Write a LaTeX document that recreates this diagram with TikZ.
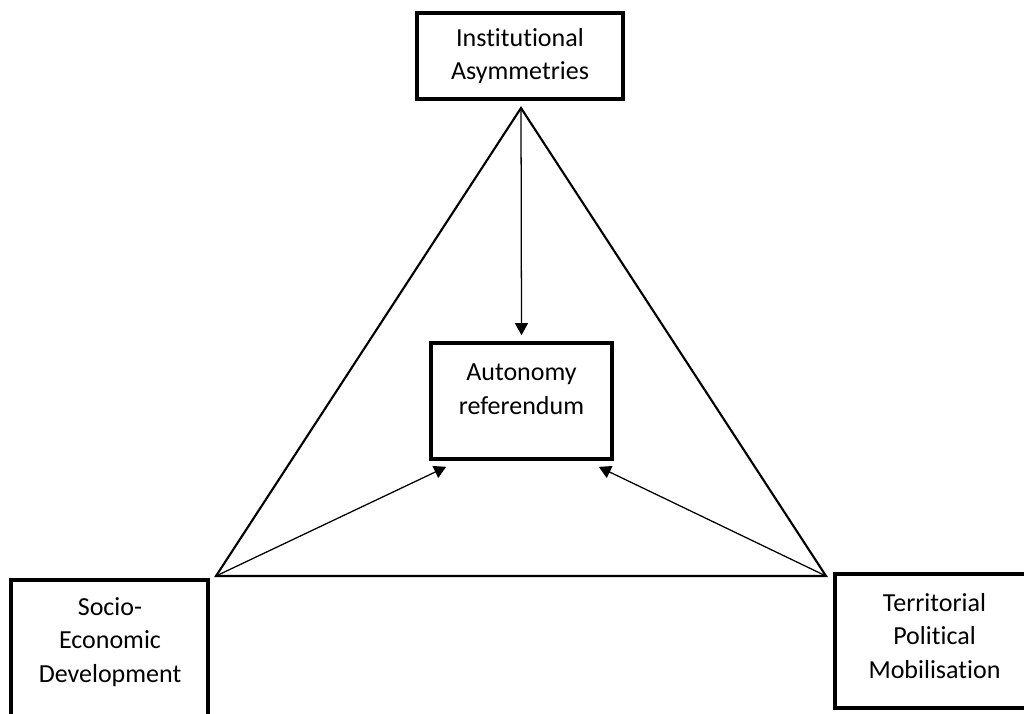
\documentclass[tikz,border=0pt]{standalone}
\usepackage{fontspec}
\setmainfont{Carlito}[Ligatures=NoCommon]
\usepackage{tikz}
\usetikzlibrary{calc,arrows.meta,positioning}
\newcommand{\unitpx}{0.025cm}
\newcommand{\boxline}{2.6pt}

\begin{document}
\begin{tikzpicture}[x=0.025cm, y=-0.025cm,
  box/.style={draw, line width=\boxline, rectangle, align=center, inner sep=0pt,
    font=\fontsize{18.5}{24}\selectfont},
  side/.style={line width=1.5pt, line join=miter},
  arrow/.style={line width=0.9pt, -{Triangle[length=12*\unitpx, width=13*\unitpx]}}]
\useasboundingbox (0,0) rectangle (1024,713);
\node[box, minimum width=206*\unitpx, minimum height=86*\unitpx] (inst) at (520,56) {Institutional\\Asymmetries};
\node[box, minimum width=197*\unitpx, minimum height=136*\unitpx] (socio) at (109.5,648) {};
\node[box, minimum width=199*\unitpx, minimum height=134*\unitpx] (terr) at (934.5,641) {};
\node[box, minimum width=181*\unitpx, minimum height=116*\unitpx] (auto) at (521.5,401) {};
\node[box, draw=none] (sociotext) at (110,642) {Socio-\\Economic\\Development};
\node[box, draw=none] (terrtext) at (934.5,636) {Territorial\\Political\\Mobilisation};
\node[box, draw=none] (autotext) at (521.5,389) {Autonomy\\referendum};
%triangle
\coordinate (apex) at (521,108);
\coordinate (left) at (216,576);
\coordinate (right) at (826,576);
\draw[side] (apex) -- (left) -- (right) -- cycle;
%arrows
\draw[arrow] (apex) -- ($(auto.north)+(0,-6)$);
\draw[arrow] (left) -- ($(auto.south west)+(17,6)$);
\draw[arrow] (right) -- ($(auto.south east)+(-15,6)$);
\end{tikzpicture}
\end{document}
